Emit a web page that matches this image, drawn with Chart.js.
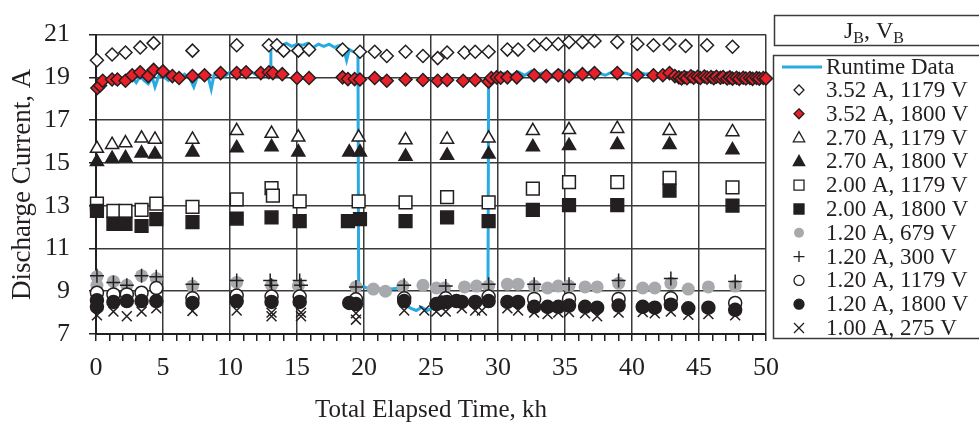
<!doctype html>
<html lang="en">
  <head>
    <meta charset="UTF-8" />
    <title>Discharge Current vs Total Elapsed Time</title>
    <style>
      html, body { margin: 0; padding: 0; background: #fff; }
      #wrap { width: 979px; height: 425px; position: relative; }
      canvas { display: block; }
    </style>
  </head>
  <body>
    <div id="wrap"><canvas id="chart" width="979" height="425"></canvas></div>
    <script src="https://cdn.jsdelivr.net/npm/chart.js"></script>
    <script>
      // axis ticks
      const xTicks = [0, 5, 10, 15, 20, 25, 30, 35, 40, 45, 50];
      const yTicks = [7, 9, 11, 13, 15, 17, 19, 21];

      // runtime trace, [kh, A]
      const runtimeData = [
        [0.1,18.55],[0.3,18.7],[0.6,18.85],[0.9,18.8],[1.2,18.95],[1.5,18.7],[1.8,18.9],[2.1,18.8],
        [2.4,18.95],[2.7,19.0],[3.0,18.75],[3.3,19.05],[3.6,18.85],[3.9,18.7],[4.2,19.0],[4.4,18.55],
        [4.7,19.1],[5.0,19.05],[5.4,18.85],[5.8,19.1],[6.2,18.9],[6.6,19.15],[7.0,18.95],[7.3,18.55],
        [7.6,19.1],[8.0,19.15],[8.4,18.95],[8.6,18.45],[8.8,19.1],[9.2,19.2],[9.6,19.05],[10.0,19.25],
        [10.4,19.15],[10.8,19.3],[11.2,19.15],[11.6,19.25],[12.0,19.1],[12.4,19.3],[12.8,19.15],[13.0,19.2],
        [13.05,20.4],[13.4,20.55],[13.8,20.45],[14.2,20.6],[14.6,20.45],[15.0,20.55],[15.4,20.5],[15.8,20.6],
        [16.2,20.4],[16.6,20.55],[17.0,20.45],[17.4,20.55],[17.8,20.4],[18.2,20.5],[18.5,20.3],[18.7,19.8],
        [18.9,20.3],[19.2,20.2],[19.55,20.1],[19.6,9.25],[20.0,9.2],[20.5,9.1],[21.0,9.15],[21.5,9.05],
        [22.0,9.1],[22.6,9.15],[22.9,8.9],[23.1,8.35],[23.5,8.2],[23.9,8.1],[24.3,8.25],[24.7,8.1],
        [25.1,8.2],[25.4,8.15],[25.6,8.5],[26.0,8.55],[26.6,8.5],[27.2,8.55],[27.8,8.5],[28.4,8.55],
        [29.0,8.5],[29.25,8.55],[29.3,18.95],[29.6,19.15],[30.0,19.1],[30.5,19.2],[31.0,19.1],[31.5,19.25],
        [32.0,19.1],[32.5,19.3],[33.0,19.15],[33.5,19.25],[34.0,19.1],[34.5,19.35],[35.0,19.2],[35.5,19.1],
        [36.0,19.25],[36.5,19.15],[37.0,19.3],[37.5,19.2],[38.0,19.1],[38.5,19.25],[39.0,19.15],[39.5,19.2],
        [40.0,19.1],[40.5,19.25],[41.0,19.15],[41.5,19.2],[42.0,19.1],[42.5,19.2],[43.0,19.05],[44.0,19.1],
        [45.0,19.0],[46.0,19.05],[47.0,19.0],[48.0,18.95],[49.0,19.0],[50.0,18.95]
      ];

      const d352_1179 = [
        [0.07,19.8],[1.2,20.07],[2.2,20.16],[3.3,20.4],[4.3,20.6],[7.2,20.25],[10.5,20.5],[12.9,20.5],
        [13.5,20.5],[14.0,20.25],[15.1,20.25],[15.9,20.3],[18.4,20.3],[19.7,20.2],[20.8,20.2],[21.7,20.0],
        [23.1,20.2],[24.4,20.0],[25.5,19.9],[26.2,20.16],[27.5,20.16],[28.3,20.2],[29.3,20.2],[30.7,20.3],
        [31.5,20.3],[32.7,20.5],[33.6,20.56],[34.5,20.56],[35.3,20.65],[36.3,20.65],[37.2,20.7],[38.9,20.65],
        [40.4,20.56],[41.6,20.5],[42.8,20.56],[44.0,20.47],[45.6,20.5],[47.5,20.43]
      ];
      const d352_1800 = [
        [0.1,18.5],[0.3,18.62],[0.5,18.84],[1.2,18.9],[1.6,18.9],[2.2,18.84],[2.7,19.1],[3.3,19.24],
        [3.9,19.06],[4.3,19.35],[5.0,19.28],[5.7,19.06],[6.2,18.97],[7.2,19.06],[8.1,19.1],[9.3,19.2],
        [10.5,19.2],[11.2,19.24],[12.3,19.2],[12.9,19.24],[13.2,19.2],[13.9,19.15],[15.0,18.97],[15.9,18.97],
        [18.4,19.0],[18.8,18.92],[19.3,18.92],[19.7,18.9],[20.8,18.97],[21.7,18.84],[23.1,18.9],[24.4,18.88],
        [25.5,18.84],[26.2,18.88],[27.4,18.84],[28.3,18.88],[29.3,18.8],[29.5,18.97],[29.9,19.0],[30.2,18.98],
        [30.7,19.0],[31.4,19.0],[32.7,19.1],[33.6,19.06],[34.5,19.1],[35.3,19.06],[36.3,19.15],[37.2,19.2],
        [38.9,19.2],[40.4,19.1],[41.6,19.1],[42.3,19.1],[42.8,19.2],[43.2,19.06],[43.5,19.0],[43.7,18.95],
        [43.9,19.02],[44.1,18.96],[44.4,19.05],[44.6,18.98],[44.9,19.03],[45.1,18.97],[45.4,19.04],[45.6,18.99],
        [45.9,19.02],[46.1,18.96],[46.3,19.03],[46.6,18.98],[46.8,19.02],[47.1,18.95],[47.3,19.0],[47.5,18.94],
        [47.8,18.98],[48.0,18.93],[48.3,18.98],[48.5,18.95],[48.8,18.97],[49.0,18.93],[49.3,18.97],[49.5,18.94],
        [49.8,18.97],[50.0,18.95]
      ];
      const d270_1179 = [
        [0.07,15.67],[1.2,15.85],[2.2,15.93],[3.4,16.15],[4.4,16.1],[7.2,16.1],[10.5,16.5],[13.1,16.37],
        [15.1,16.2],[19.6,16.2],[23.1,16.07],[26.2,16.1],[29.3,16.15],[32.6,16.5],[35.3,16.55],[38.9,16.6],
        [42.8,16.5],[47.5,16.45]
      ];
      const d270_1800 = [
        [0.07,15.05],[1.2,15.2],[2.2,15.23],[3.4,15.45],[4.4,15.4],[7.2,15.5],[10.5,15.7],[13.1,15.75],
        [15.1,15.5],[18.9,15.5],[19.7,15.5],[23.1,15.3],[26.2,15.35],[29.3,15.4],[32.6,15.75],[35.3,15.8],
        [38.9,15.85],[42.8,15.85],[47.5,15.6]
      ];
      const d200_1179 = [
        [0.07,13.1],[1.3,12.76],[2.2,12.76],[3.4,12.8],[4.5,13.1],[7.2,12.94],[10.5,13.3],[13.1,13.82],
        [13.2,13.47],[15.2,13.2],[19.6,13.2],[23.1,13.15],[26.2,13.4],[29.3,13.15],[32.6,13.8],[35.3,14.1],
        [38.9,14.1],[42.8,14.3],[47.5,13.86]
      ];
      const d200_1800 = [
        [0.07,12.76],[1.3,12.15],[2.2,12.15],[3.4,12.05],[4.5,12.37],[7.2,12.23],[10.5,12.4],[13.1,12.45],
        [15.2,12.28],[18.8,12.28],[19.7,12.37],[23.1,12.28],[26.2,12.45],[29.3,12.28],[32.6,12.8],[35.3,13.03],
        [38.9,13.03],[42.8,13.7],[47.5,13.0]
      ];
      const d120_679 = [
        [0.07,9.68],[0.07,9.28],[1.3,9.46],[2.3,9.28],[3.4,9.72],[4.5,9.6],[7.2,9.24],[10.5,9.41],
        [13.1,9.28],[15.1,9.24],[19.4,9.2],[20.7,9.1],[21.6,9.0],[22.9,9.24],[24.4,9.28],[25.4,9.15],
        [26.0,9.15],[27.5,9.2],[28.4,9.24],[29.3,9.24],[30.7,9.33],[31.5,9.33],[32.7,9.24],[33.7,9.15],
        [34.5,9.24],[35.3,9.24],[36.5,9.2],[37.4,9.2],[39.0,9.37],[40.8,9.15],[41.7,9.15],[42.9,9.37],
        [44.2,9.1],[45.7,9.2],[47.7,9.24]
      ];
      const d120_300 = [
        [0.07,9.72],[1.3,9.41],[2.3,9.28],[3.4,9.72],[4.5,9.68],[7.2,9.33],[10.5,9.5],[13.0,9.5],
        [13.1,9.28],[15.2,9.5],[15.3,9.28],[19.4,9.2],[23.0,9.28],[26.1,9.24],[29.3,9.33],[32.7,9.33],
        [35.3,9.33],[39.0,9.5],[42.9,9.6],[47.7,9.46]
      ];
      const d120_1179 = [
        [0.07,8.93],[1.3,8.85],[2.3,8.85],[3.4,8.93],[4.5,9.15],[7.2,8.67],[10.5,8.8],[13.1,8.75],
        [15.2,8.75],[19.4,8.62],[23.0,8.67],[26.1,8.67],[29.3,8.75],[32.7,8.64],[35.3,8.64],[39.0,8.64],
        [42.9,8.67],[47.7,8.45]
      ];
      const d120_1800 = [
        [0.07,8.58],[0.07,8.27],[1.3,8.5],[2.3,8.54],[3.4,8.54],[4.5,8.54],[7.2,8.45],[10.5,8.54],
        [13.1,8.5],[15.2,8.5],[18.9,8.45],[19.4,8.4],[23.0,8.54],[25.4,8.4],[25.8,8.47],[26.2,8.5],
        [26.9,8.54],[27.3,8.5],[28.3,8.5],[29.3,8.54],[30.7,8.5],[31.5,8.5],[32.7,8.27],[33.7,8.27],
        [34.5,8.27],[35.3,8.33],[36.5,8.27],[37.4,8.23],[39.0,8.33],[40.8,8.27],[41.7,8.23],[42.9,8.37],
        [44.2,8.2],[45.7,8.23],[47.7,8.13]
      ];
      const d100_275 = [
        [0.07,7.87],[1.3,8.05],[2.3,7.83],[3.4,8.05],[4.5,8.2],[7.2,8.08],[10.5,8.1],[13.1,8.0],
        [13.1,7.83],[15.3,8.0],[15.3,7.83],[19.4,7.97],[19.4,7.67],[23.0,8.1],[24.5,8.1],[25.4,8.05],
        [26.1,8.05],[27.3,8.2],[28.3,8.1],[28.8,8.1],[30.7,8.2],[31.5,8.1],[32.7,8.0],[33.7,7.93],
        [34.5,8.0],[35.3,8.03],[36.5,7.97],[37.4,7.83],[39.0,8.0],[40.8,8.03],[41.7,7.97],[42.9,8.05],
        [44.2,7.9],[45.7,7.93],[47.7,7.87]
      ];

      const INK = '#231f20';
      const FONT = '"Liberation Serif", "Times New Roman", serif';

      // label, data, pointStyle, radius, fill, borderWidth
      const series = [
        ['3.52 A, 1179 V', d352_1179, 'rectRot', 6.5, '#ffffff', 1.5],
        ['3.52 A, 1800 V', d352_1800, 'rectRot', 6.5, '#e8202a', 1.5],
        ['2.70 A, 1179 V', d270_1179, 'triangle', 7.5, '#ffffff', 1.5],
        ['2.70 A, 1800 V', d270_1800, 'triangle', 7.5, INK, 1.5],
        ['2.00 A, 1179 V', d200_1179, 'rect', 9, '#ffffff', 1.5],
        ['2.00 A, 1800 V', d200_1800, 'rect', 9, INK, 1.5],
        ['1.20 A, 679 V', d120_679, 'circle', 6.5, '#a7a9ac', 0],
        ['1.20 A, 300 V', d120_300, 'cross', 7, INK, 1.5],
        ['1.20 A, 1179 V', d120_1179, 'circle', 6.5, '#ffffff', 1.5],
        ['1.20 A, 1800 V', d120_1800, 'circle', 6.5, INK, 1.5],
        ['1.00 A, 275 V', d100_275, 'crossRot', 7, INK, 1.5]
      ];

      const toXY = arr => arr.map(p => ({ x: p[0], y: p[1] }));

      const datasets = [{
        label: 'Runtime Data',
        data: toXY(runtimeData),
        showLine: true,
        borderColor: '#29abe2',
        borderWidth: 3,
        pointRadius: 0,
        tension: 0,
        clip: false,
        order: 50
      }];
      series.forEach((s, i) => {
        datasets.push({
          label: s[0],
          data: toXY(s[1]),
          pointStyle: s[2],
          pointRadius: s[3],
          pointHoverRadius: s[3],
          backgroundColor: s[4],
          borderColor: INK,
          pointBorderWidth: s[5],
          showLine: false,
          clip: false,
          order: 20 - i
        });
      });

      // small marker drawer for the boxed legend
      function marker(ctx, style, r, fill, bw, x, y) {
        ctx.save();
        ctx.fillStyle = fill;
        ctx.strokeStyle = INK;
        ctx.lineWidth = bw;
        ctx.beginPath();
        if (style === 'circle') {
          ctx.arc(x, y, r, 0, Math.PI * 2);
        } else if (style === 'rect') {
          ctx.rect(x - r, y - r, 2 * r, 2 * r);
        } else if (style === 'rectRot') {
          ctx.moveTo(x, y - r); ctx.lineTo(x + r, y); ctx.lineTo(x, y + r); ctx.lineTo(x - r, y); ctx.closePath();
        } else if (style === 'triangle') {
          ctx.moveTo(x, y - r); ctx.lineTo(x + r * 0.95, y + r * 0.7); ctx.lineTo(x - r * 0.95, y + r * 0.7); ctx.closePath();
        } else if (style === 'cross') {
          ctx.moveTo(x - r, y); ctx.lineTo(x + r, y); ctx.moveTo(x, y - r); ctx.lineTo(x, y + r);
          ctx.stroke(); ctx.restore(); return;
        } else if (style === 'crossRot') {
          ctx.moveTo(x - r, y - r); ctx.lineTo(x + r, y + r); ctx.moveTo(x + r, y - r); ctx.lineTo(x - r, y + r);
          ctx.stroke(); ctx.restore(); return;
        }
        ctx.fill();
        if (bw > 0) ctx.stroke();
        ctx.restore();
      }

      const boxLegend = {
        id: 'boxLegend',
        afterDraw(chart) {
          const ctx = chart.ctx;
          ctx.save();
          ctx.strokeStyle = '#3a3a3a';
          ctx.lineWidth = 1.5;
          ctx.strokeRect(774.5, 15.5, 215, 30);
          ctx.strokeRect(773.5, 55.5, 215, 283);

          // header J_B, V_B
          ctx.fillStyle = INK;
          ctx.textBaseline = 'alphabetic';
          const big = '24px ' + FONT, small = '16px ' + FONT;
          const parts = [['J', big, 0], ['B', small, 5], [', V', big, 0], ['B', small, 5]];
          let w = 0;
          parts.forEach(p => { ctx.font = p[1]; w += ctx.measureText(p[0]).width; });
          let x = 874 - w / 2;
          parts.forEach(p => { ctx.font = p[1]; ctx.fillText(p[0], x, 38 + p[2]); x += ctx.measureText(p[0]).width; });

          // rows
          ctx.font = '23px ' + FONT;
          ctx.textBaseline = 'middle';
          let y = 67;
          ctx.strokeStyle = '#29abe2';
          ctx.lineWidth = 3;
          ctx.beginPath(); ctx.moveTo(782, y); ctx.lineTo(822, y); ctx.stroke();
          ctx.fillText('Runtime Data', 826, y + 1);
          const small_r = { rectRot: 5, triangle: 6, rect: 5, circle: 5, cross: 5.5, crossRot: 5 };
          series.forEach((s, i) => {
            y = 90 + i * 23.8;
            marker(ctx, s[2], small_r[s[2]], s[4], s[5] ? 1.3 : 0, 799, y);
            ctx.fillStyle = INK;
            ctx.fillText(s[0], 826, y + 1);
          });
          ctx.restore();
        }
      };

      const ctx = document.getElementById('chart').getContext('2d');
      new Chart(ctx, {
        type: 'scatter',
        data: { datasets },
        options: {
          responsive: false,
          animation: false,
          events: [],
          layout: { padding: { top: 16, right: 213, bottom: 0, left: 0 } },
          plugins: { legend: { display: false }, tooltip: { enabled: false } },
          scales: {
            x: {
              type: 'linear',
              min: 0,
              max: 50,
              afterBuildTicks: scale => {
                const t = [];
                for (let v = 0; v <= 50; v++) t.push({ value: v });
                scale.ticks = t;
              },
              afterFit: scale => { scale.height = 91; },
              ticks: {
                autoSkip: false,
                maxRotation: 0,
                padding: 12,
                color: INK,
                font: { family: FONT, size: 26 },
                callback: v => (xTicks.includes(v) ? String(v) : '')
              },
              grid: {
                color: c => (c.tick && xTicks.includes(c.tick.value) ? '#3a3a3a' : 'rgba(0,0,0,0)'),
                lineWidth: 1.5,
                tickColor: INK,
                tickLength: 7,
                tickWidth: 1.5
              },
              border: { display: true, color: INK, width: 2 },
              title: {
                display: true,
                text: 'Total Elapsed Time, kh',
                color: INK,
                font: { family: FONT, size: 25 },
                padding: { top: 2, bottom: 0 }
              }
            },
            y: {
              type: 'linear',
              min: 7,
              max: 21,
              afterBuildTicks: scale => { scale.ticks = yTicks.map(v => ({ value: v })); },
              afterFit: scale => { scale.width = 96; },
              ticks: {
                padding: 19,
                color: INK,
                font: { family: FONT, size: 26 }
              },
              grid: {
                color: '#3a3a3a',
                lineWidth: 1.5,
                tickColor: INK,
                tickLength: 7,
                tickWidth: 1.5
              },
              border: { display: true, color: INK, width: 2 },
              title: {
                display: true,
                text: 'Discharge Current, A',
                color: INK,
                font: { family: FONT, size: 27 },
                padding: { top: 7, bottom: 0 }
              }
            }
          }
        },
        plugins: [boxLegend]
      });
    </script>
  </body>
</html>
